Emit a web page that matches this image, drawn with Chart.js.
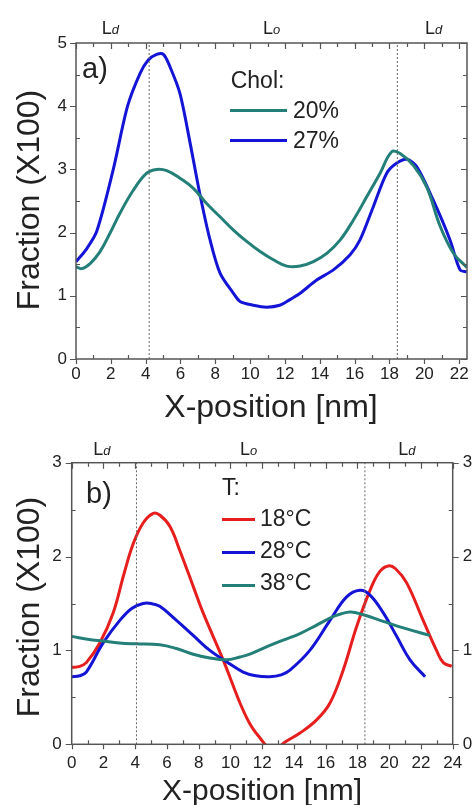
<!DOCTYPE html>
<html>
<head>
<meta charset="utf-8">
<script src="https://cdn.jsdelivr.net/npm/chart.js@4.4.1/dist/chart.umd.min.js"></script>
<style>
  html, body { margin: 0; padding: 0; background: #fff; overflow: hidden; }
  #wrap { position: relative; width: 472px; height: 805px; overflow: hidden; background: #fff;
          font-family: "Liberation Sans", Arial, sans-serif; color: #222; }
  #wrap canvas { position: absolute; left: 0; }
  .t { position: absolute; line-height: 1; white-space: nowrap; }
  .ln { position: absolute; height: 3px; }
</style>
</head>
<body>
<div id="wrap">
  <canvas id="chartA" width="520" height="395" style="top:0"></canvas>
  <canvas id="chartB" width="520" height="405" style="top:400px"></canvas>
</div>
<script>
// colores
const teal = "#237f77";
const blue = "#1414d6";
const red = "#e61e1e";

// panel a) Chol
const xTicksA = [0, 2, 4, 6, 8, 10, 12, 14, 16, 18, 20, 22];
const yTicksA = [0, 1, 2, 3, 4, 5];
const chol20X = [0, 0.33, 0.81, 1.38, 1.95, 2.53, 3.29, 4.06, 4.63, 5.21, 5.97, 6.74, 7.5, 8.27, 9.04, 9.8, 10.57, 11.33, 12.1, 12.87, 13.63, 14.4, 15.16, 15.93, 16.7, 17.46, 18.13, 18.61, 19.38, 20.14, 20.91, 21.68, 22.44];
const chol20Y = [1.46, 1.43, 1.51, 1.70, 1.99, 2.31, 2.67, 2.94, 3.0, 2.98, 2.86, 2.70, 2.46, 2.25, 2.04, 1.86, 1.70, 1.57, 1.47, 1.47, 1.54, 1.67, 1.88, 2.2, 2.57, 2.94, 3.28, 3.25, 3.06, 2.72, 2.1, 1.67, 1.45];
const chol27X = [0, 0.6, 1.19, 2.14, 2.96, 3.68, 4.15, 4.63, 5.02, 5.4, 5.97, 6.55, 7.12, 7.7, 8.27, 9.04, 9.42, 10.18, 10.95, 11.7, 12.28, 12.87, 13.82, 14.78, 15.74, 16.3, 17.07, 17.84, 18.42, 19.0, 19.57, 20.5, 21.48, 22.05, 22.44];
const chol27Y = [1.54, 1.74, 2.02, 3.0, 4.0, 4.52, 4.73, 4.82, 4.82, 4.62, 4.2, 3.42, 2.6, 1.88, 1.36, 1.04, 0.91, 0.85, 0.82, 0.85, 0.94, 1.04, 1.25, 1.41, 1.65, 1.88, 2.41, 2.94, 3.1, 3.16, 3.04, 2.52, 1.88, 1.41, 1.38];
const linesA = [4.2, 18.45];

// panel b) T
const xTicksB = [0, 2, 4, 6, 8, 10, 12, 14, 16, 18, 20, 22, 24];
const yTicksB = [0, 1, 2, 3];
const t18X = [0, 0.5, 0.92, 1.77, 2.61, 3.3, 3.88, 4.51, 5.14, 5.56, 6.19, 6.82, 7.66, 8.28, 9.54, 10.6, 11.22, 11.85, 12.5, 13.0, 13.32, 14.38, 15.43, 16.27, 17.1, 17.94, 18.79, 19.4, 19.95, 20.4, 21.1, 22.14, 22.98, 23.41, 23.94];
const t18Y = [0.82, 0.83, 0.87, 1.08, 1.40, 1.82, 2.14, 2.36, 2.46, 2.44, 2.32, 2.06, 1.68, 1.40, 0.9, 0.44, 0.22, 0.07, -0.05, -0.05, 0.01, 0.12, 0.26, 0.44, 0.79, 1.25, 1.64, 1.84, 1.90, 1.87, 1.72, 1.32, 1.0, 0.87, 0.83];
const t28X = [0, 0.5, 0.92, 1.98, 3.03, 3.8, 4.5, 5.0, 5.55, 6.6, 7.65, 8.7, 9.75, 10.8, 11.6, 12.48, 13.2, 13.75, 15.0, 16.27, 17.32, 18.16, 18.79, 19.63, 20.47, 21.31, 22.26];
const t28Y = [0.72, 0.73, 0.77, 1.08, 1.32, 1.45, 1.50, 1.50, 1.47, 1.32, 1.16, 1.0, 0.88, 0.77, 0.73, 0.72, 0.74, 0.79, 1.0, 1.32, 1.57, 1.64, 1.59, 1.40, 1.15, 0.90, 0.72];
const t38X = [0, 1.0, 1.98, 3.0, 4.07, 5.55, 6.6, 7.65, 8.7, 9.75, 10.6, 11.22, 12.3, 13.32, 14.38, 15.43, 16.48, 17.53, 18.37, 19.63, 20.89, 22.57];
const t38Y = [1.15, 1.12, 1.10, 1.08, 1.07, 1.06, 1.02, 0.96, 0.92, 0.90, 0.93, 0.96, 1.04, 1.11, 1.18, 1.27, 1.36, 1.41, 1.38, 1.31, 1.24, 1.16];
const linesB = [4.08, 18.47];

const fontFam = '"Liberation Sans", Arial, sans-serif';

function pts(xs, ys) {
  return xs.map((x, i) => ({ x: x, y: ys[i] }));
}

function serie(xs, ys, color, tension) {
  return { data: pts(xs, ys), borderColor: color, borderWidth: 3, pointRadius: 0,
           tension: tension, fill: false, clip: 0 };
}

function vline(x, ymax) {
  return { data: [{ x: x, y: 0 }, { x: x, y: ymax }], borderColor: "#666", borderWidth: 1,
           borderDash: [2, 2], pointRadius: 0, fill: false };
}

// marco con ticks mayores y menores
const framePlugin = {
  id: "frame",
  afterDatasetsDraw(chart, args, opts) {
    const { ctx, chartArea: a, scales } = chart;
    const xs = scales.x, ys = scales.y;
    ctx.save();
    ctx.strokeStyle = "#555";
    ctx.lineWidth = 1.5;
    ctx.strokeRect(a.left, a.top, a.right - a.left, a.bottom - a.top);
    ctx.lineWidth = 1.2;
    ctx.beginPath();
    for (let v = 0; v <= xs.max + 1e-6; v += 1) {
      const px = Math.round(xs.getPixelForValue(v)) + 0.5;
      const major = v % 2 === 0;
      if (major) { ctx.moveTo(px, a.bottom); ctx.lineTo(px, a.bottom + 5); }
      else { ctx.moveTo(px, a.bottom); ctx.lineTo(px, a.bottom - 4); }
      ctx.moveTo(px, a.top); ctx.lineTo(px, a.top + (major ? 6 : 4));
    }
    for (let v = 0; v <= ys.max + 1e-6; v += 0.5) {
      const py = Math.round(ys.getPixelForValue(v)) + 0.5;
      const major = Math.abs(v - Math.round(v)) < 1e-6;
      if (major) { ctx.moveTo(a.left, py); ctx.lineTo(a.left - 6, py); }
      else { ctx.moveTo(a.left, py); ctx.lineTo(a.left + 4, py); }
      if (major) {
        ctx.moveTo(a.right, py);
        ctx.lineTo(opts.rightOut ? a.right + 6 : a.right - 6, py);
      } else { ctx.moveTo(a.right, py); ctx.lineTo(a.right - 4, py); }
    }
    ctx.stroke();
    ctx.restore();
  }
};

function tickFont() { return { family: fontFam, size: 17 }; }

function makeChart(id, datasets, cfg) {
  const scales = {
    x: {
      type: "linear", min: 0, max: cfg.xMax,
      grid: { display: false, drawTicks: false }, border: { display: false },
      ticks: { font: tickFont(), color: "#222", padding: cfg.xPad },
      afterBuildTicks: (s) => { s.ticks = cfg.xTicks.map((v) => ({ value: v })); },
      afterFit: (s) => { s.height = cfg.xH; }
    },
    y: {
      type: "linear", min: 0, max: cfg.yMax,
      grid: { display: false, drawTicks: false }, border: { display: false },
      ticks: { font: tickFont(), color: "#222", padding: cfg.yPad },
      afterBuildTicks: (s) => { s.ticks = cfg.yTicks.map((v) => ({ value: v })); },
      afterFit: (s) => { s.width = cfg.yW; }
    }
  };
  if (cfg.y2W) {
    scales.y2 = {
      type: "linear", position: "right", min: 0, max: cfg.yMax,
      grid: { display: false, drawTicks: false }, border: { display: false },
      ticks: { font: tickFont(), color: "#222", padding: 10 },
      afterBuildTicks: (s) => { s.ticks = cfg.yTicks.map((v) => ({ value: v })); },
      afterFit: (s) => { s.width = cfg.y2W; }
    };
  }
  return new Chart(document.getElementById(id), {
    type: "line",
    data: { datasets: datasets },
    options: {
      responsive: false, animation: false, devicePixelRatio: 1,
      layout: { padding: cfg.padding },
      plugins: { legend: { display: false }, tooltip: { enabled: false },
                 frame: { rightOut: cfg.rightOut } },
      scales: scales
    },
    plugins: [framePlugin]
  });
}

makeChart("chartA", [
  vline(linesA[0], 5), vline(linesA[1], 5),
  serie(chol20X, chol20Y, teal, 0.4),
  serie(chol27X, chol27Y, blue, 0.3)
], {
  xMax: 22.45, yMax: 5, xTicks: xTicksA, yTicks: yTicksA,
  xPad: 5, yPad: 9, xH: 36, yW: 76, rightOut: false,
  padding: { left: 0, right: 53, top: 43, bottom: 0 }
});

makeChart("chartB", [
  vline(linesB[0], 3), vline(linesB[1], 3),
  serie(t38X, t38Y, teal, 0.4),
  serie(t28X, t28Y, blue, 0.4),
  serie(t18X, t18Y, red, 0.4)
], {
  xMax: 24, yMax: 3, xTicks: xTicksB, yTicks: yTicksB,
  xPad: 9, yPad: 10, xH: 60.7, yW: 71.7, y2W: 67.3, rightOut: true,
  padding: { left: 0, right: 0, top: 62.7, bottom: 0 }
});

// textos en HTML
const wrap = document.getElementById("wrap");
function addText(html, left, baseline, size, center) {
  const d = document.createElement("div");
  d.className = "t";
  d.innerHTML = html;
  d.style.fontSize = size + "px";
  d.style.left = left + "px";
  d.style.top = (baseline - 0.8465 * size) + "px";
  if (center) d.style.transform = "translateX(-50%)";
  wrap.appendChild(d);
}
function addVText(text, cx, cy, size) {
  const d = document.createElement("div");
  d.className = "t";
  d.textContent = text;
  d.style.fontSize = size + "px";
  d.style.left = cx + "px";
  d.style.top = cy + "px";
  d.style.transform = "translate(-50%,-50%) rotate(-90deg)";
  wrap.appendChild(d);
}
function addLine(color, left, y, w) {
  const d = document.createElement("div");
  d.className = "ln";
  d.style.background = color;
  d.style.left = left + "px";
  d.style.top = (y - 1.5) + "px";
  d.style.width = w + "px";
  wrap.appendChild(d);
}

const Ld = 'L<i style="font-size:13px">d</i>';
const Lo = 'L<i style="font-size:13px">o</i>';

// panel a
addText(Ld, 101.7, 34.5, 18);
addText(Lo, 263, 34.5, 18);
addText(Ld, 425, 34.5, 18);
addText("a)", 82, 79, 29);
addText("Chol:", 230.7, 88, 23);
addLine(teal, 230, 110.5, 57);
addText("20%", 293, 118, 23);
addLine(blue, 230, 140.7, 57);
addText("27%", 293, 148, 23);
addText("X-position [nm]", 271, 417, 32, true);
addVText("Fraction (X100)", 28, 200, 32);

// panel b
addText(Ld, 93.3, 455, 18);
addText(Lo, 240, 455, 18);
addText(Ld, 398.3, 455, 18);
addText("b)", 86, 504, 29);
addText("T:", 222, 495, 23);
addLine(red, 222, 519.3, 33);
addText("18°C", 260, 526, 23);
addLine(blue, 222, 552.3, 33);
addText("28°C", 260, 558, 23);
addLine(teal, 222, 585.7, 33);
addText("38°C", 260, 590, 23);
addText("X-position [nm]", 262, 800, 30, true);
addVText("Fraction (X100)", 28, 607, 32);
</script>
</body>
</html>
